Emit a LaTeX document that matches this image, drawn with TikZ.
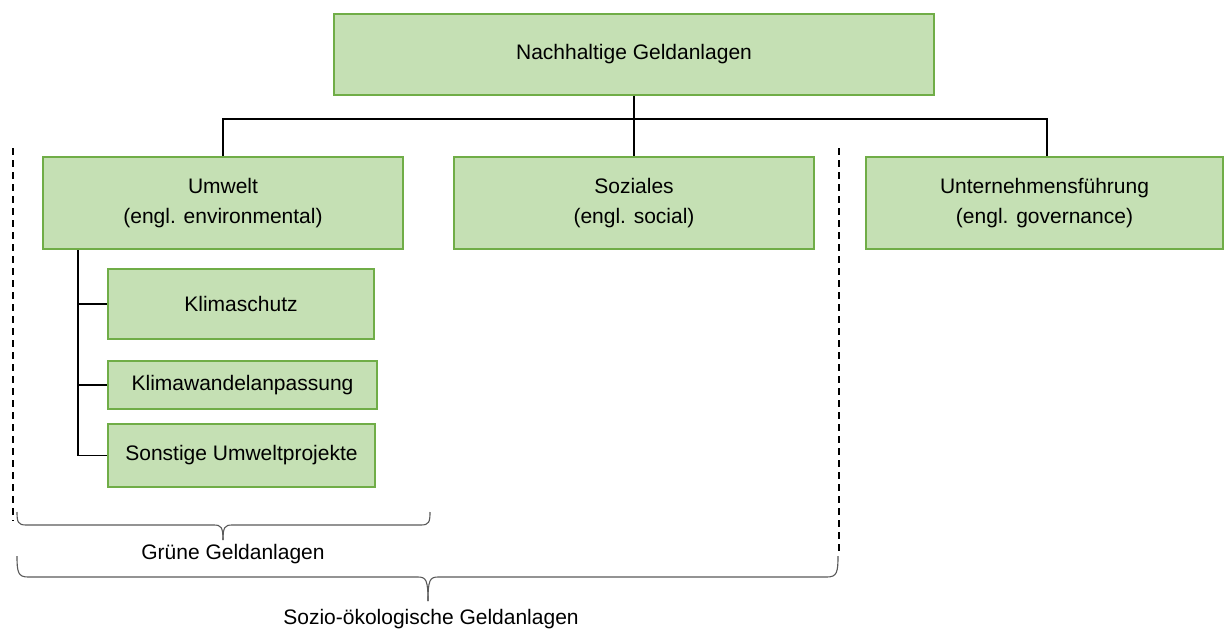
\documentclass[tikz,border=0pt]{standalone}
\usepackage{fontspec}
\setmainfont{Liberation Sans}
\definecolor{boxfill}{HTML}{C5E0B4}
\definecolor{boxline}{HTML}{70AD47}
\definecolor{bracecol}{HTML}{595959}
\begin{document}
\begin{tikzpicture}[x=1pt,y=-1pt,
  box/.style={draw=boxline,fill=boxfill,line width=2pt,inner sep=0pt,align=center,
    font=\fontsize{21}{30}\selectfont},
  conn/.style={draw=black,line width=1.5pt},
  sep/.style={draw=black,line width=1.8pt,dash pattern=on 7pt off 5pt},
  bracestyle/.style={draw=bracecol,line width=1.1pt},
  lab/.style={font=\fontsize{21}{24}\selectfont,inner sep=0pt}]
\useasboundingbox (0,0) rectangle (1225,629);
\node[box,minimum width=600pt,minimum height=81pt] (top) at (634,54.5) {Nachhaltige Geldanlagen};
\node[box,minimum width=360pt,minimum height=92pt] (umw) at (223,203) {Umwelt\\(engl. environmental)};
\node[box,minimum width=360pt,minimum height=92pt] (soz) at (634,203) {Soziales\\(engl. social)};
\node[box,minimum width=357pt,minimum height=92pt] (gov) at (1044.5,203) {Unternehmensführung\\(engl. governance)};
\node[box,minimum width=266pt,minimum height=70pt] (kli) at (241,304) {Klimaschutz};
\node[box,minimum width=269pt,minimum height=48pt] (anp) at (242.5,385) {Klimawandelanpassung};
\node[box,minimum width=267pt,minimum height=63pt] (son) at (241.5,455.5) {Sonstige Umweltprojekte};
% connectors
\coordinate (bus) at (634,119);
\draw[conn] (top.south) -- (bus);
\draw[conn] (umw.north) |- (bus) -| ([xshift=2.5pt]gov.north);
\draw[conn] (bus) -- (soz.north);
\coordinate (trunk) at (78,250);
\draw[conn] (trunk) |- (son.west);
\draw[conn] (trunk |- kli.west) -- (kli.west);
\draw[conn] (trunk |- anp.west) -- (anp.west);
% dashed separators
\coordinate (dl1) at (13,148);
\coordinate (dl2) at (13,521);
\coordinate (dr1) at (839,148);
\coordinate (dr2) at (839,555);
\draw[sep] (dl1) -- (dl2);
\draw[sep] (dr1) -- (dr2);
% brace 1
\coordinate (b1l) at (17,512);
\coordinate (b1r) at (430,512);
\coordinate (b1t) at (223,540);
\draw[bracestyle] (b1l) .. controls (17,522) and (18,525) .. (26,525) -- (214,525)
  .. controls (221,525) and (223,527) .. (b1t);
\draw[bracestyle] (b1r) .. controls (430,522) and (429,525) .. (421,525) -- (232,525)
  .. controls (225,525) and (223,527) .. (b1t);
\node[lab] (gruen) at (233,554) {Grüne Geldanlagen};
% brace 2
\coordinate (b2l) at (17,556);
\coordinate (b2r) at (838,556);
\coordinate (b2t) at (428,601);
\draw[bracestyle] (b2l) .. controls (17,572) and (18,577) .. (28,577) -- (418,577)
  .. controls (426,577) and (428,580) .. (b2t);
\draw[bracestyle] (b2r) .. controls (838,572) and (837,577) .. (827,577) -- (438,577)
  .. controls (430,577) and (428,580) .. (b2t);
\node[lab] (sozio) at (431,619) {Sozio-ökologische Geldanlagen};
\end{tikzpicture}
\end{document}
